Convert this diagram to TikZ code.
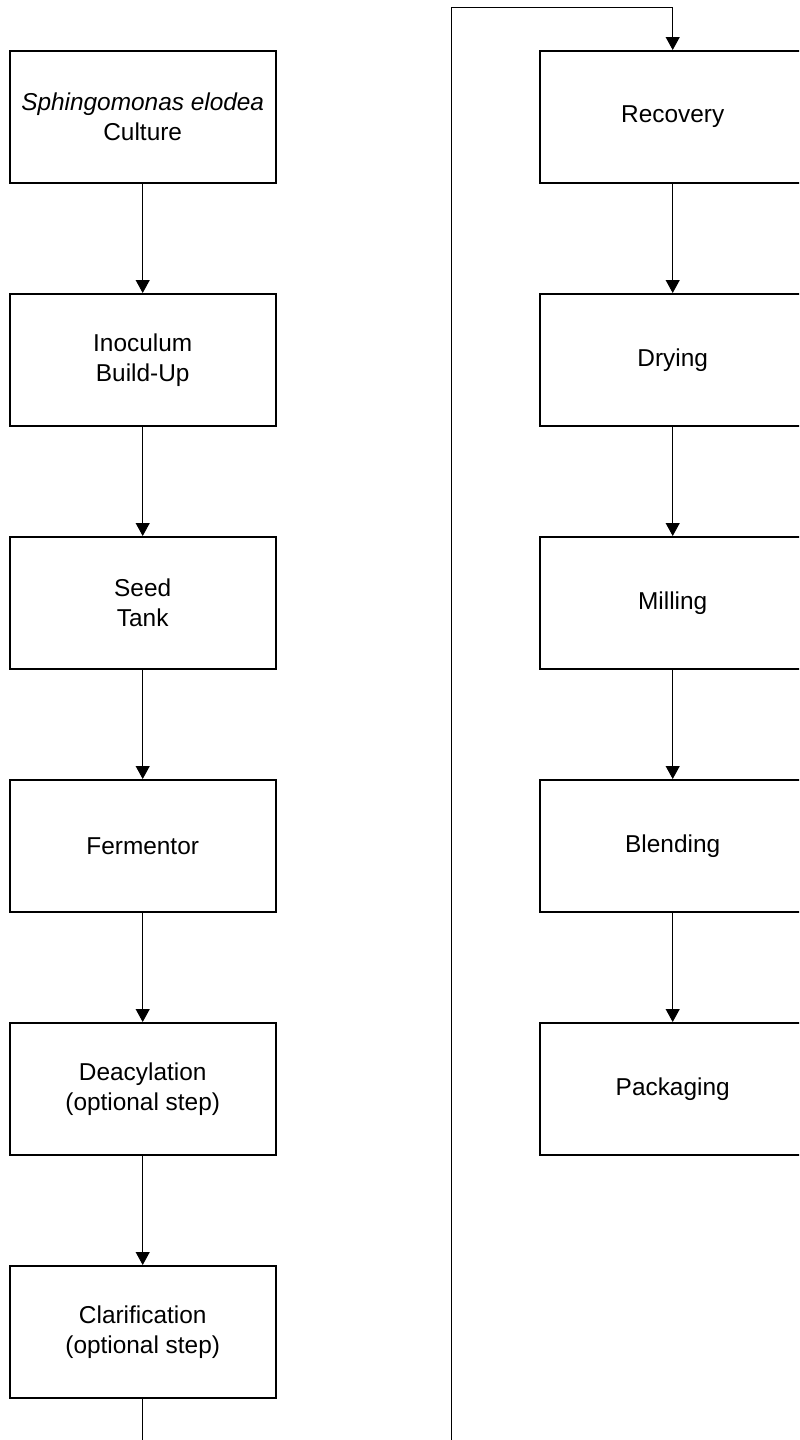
\documentclass[tikz,border=0pt]{standalone}
\usepackage{fontspec}
\setmainfont{Liberation Sans}
\usetikzlibrary{arrows.meta}
\begin{document}
\begin{tikzpicture}[x=0.5pt,y=-0.5pt,
  stepbox/.style={draw,line width=1pt,minimum width=133pt,minimum height=66pt,inner sep=0pt,align=center,font=\fontsize{12.2pt}{15pt}\selectfont},
  conn/.style={line width=0.5pt,-{Triangle[width=7pt,length=6.5pt]}}]
\useasboundingbox (0,0) rectangle (799,1440);
\clip (0,0) rectangle (799,1440);
\node[stepbox] (cul) at (142.7,117) {\textit{Sphingomonas elodea}\\Culture};
\node[stepbox] (ino) at (142.7,360) {Inoculum\\Build-Up};
\node[stepbox] (seed) at (142.7,603) {Seed\\Tank};
\node[stepbox] (fer) at (142.7,846) {Fermentor};
\node[stepbox] (dea) at (142.7,1089) {Deacylation\\(optional step)};
\node[stepbox] (cla) at (142.7,1332) {Clarification\\(optional step)};
\node[stepbox] (rec) at (672.7,117) {Recovery};
\node[stepbox] (dry) at (672.7,360) {Drying};
\node[stepbox] (mil) at (672.7,603) {Milling};
\node[stepbox] (ble) at (672.7,846) {Blending};
\node[stepbox] (pac) at (672.7,1089) {Packaging};
\draw[conn] (cul) -- (ino);
\draw[conn] (ino) -- (seed);
\draw[conn] (seed) -- (fer);
\draw[conn] (fer) -- (dea);
\draw[conn] (dea) -- (cla);
\draw[conn] (rec) -- (dry);
\draw[conn] (dry) -- (mil);
\draw[conn] (mil) -- (ble);
\draw[conn] (ble) -- (pac);
\coordinate (b1) at (142.7,1460);
\coordinate (b2) at (451.7,1460);
\coordinate (t1) at (451.7,7);
\coordinate (t2) at (672.7,7);
\draw[conn] (cla.south) -- (b1) -- (b2) -- (t1) -- (t2) -- (rec.north);
\end{tikzpicture}
\end{document}
